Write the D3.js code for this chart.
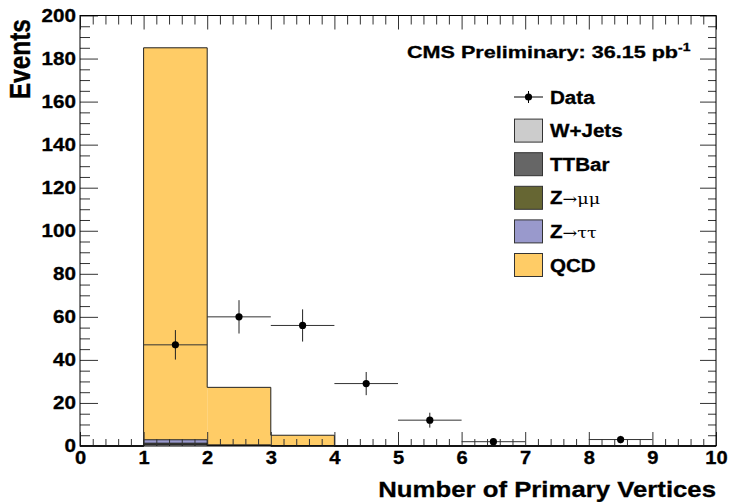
<!DOCTYPE html>
<html>
<head>
<meta charset="utf-8">
<script src="https://cdn.jsdelivr.net/npm/d3@7"></script>
<style>
  body { margin: 0; background: #fff; }
  svg { display: block; }
  text { font-family: "Liberation Sans", Arial, Helvetica, sans-serif; font-weight: bold; fill: #000; stroke: #000; stroke-width: 0.3px; }
</style>
</head>
<body>
<div id="chart"></div>
<script>
// bin low edges: 0..9, width 1
const binLow = [0, 1, 2, 3, 4, 5, 6, 7, 8, 9];
const dataCounts = [0, 47, 60, 56, 29, 12, 2, 0, 3, 0];
const wjets   = [0, 0.6, 0.3, 0.1, 0, 0, 0, 0, 0, 0];
const ttbar   = [0, 0.3, 0.05, 0, 0, 0, 0, 0, 0, 0];
const zmumu   = [0, 0.4, 0, 0, 0, 0, 0, 0, 0, 0];
const ztautau = [0, 1.6, 0, 0, 0, 0, 0, 0, 0, 0];
const qcd     = [0, 182.1, 26.9, 4.9, 0, 0, 0, 0, 0, 0];

const seriesNames = ["W+Jets", "TTBar", "Z→μμ", "Z→ττ", "QCD"];
const seriesColors = ["#cccccc", "#666666", "#666633", "#9999cc", "#ffcc66"];
const xTicks = [0, 1, 2, 3, 4, 5, 6, 7, 8, 9, 10];
const yTicks = [0, 20, 40, 60, 80, 100, 120, 140, 160, 180, 200];
const lumiLabel = "CMS Preliminary: 36.15 pb";

const w = 730, h = 502;
const pLeft = 80, pRight = 716, pTop = 15.5, pBottom = 446;

const svg = d3.select("#chart").append("svg")
    .attr("width", w)
    .attr("height", h);

const x = d3.scaleLinear().domain([0, 10]).range([pLeft, pRight]);
const y = d3.scaleLinear().domain([0, 200]).range([pBottom, pTop]);

// stacked backgrounds
const rows = binLow.map(function (b, i) {
    return {lo: b, "W+Jets": wjets[i], "TTBar": ttbar[i], "Z→μμ": zmumu[i], "Z→ττ": ztautau[i], "QCD": qcd[i]};
});
const stacked = d3.stack().keys(seriesNames)(rows);

const stackG = svg.append("g");
stacked.forEach(function (layer, k) {
    stackG.append("g").selectAll("rect")
        .data(layer.filter(d => d[1] > d[0]))
        .enter().append("rect")
        .attr("x", d => x(d.data.lo))
        .attr("width", d => x(d.data.lo + 1) - x(d.data.lo))
        .attr("y", d => y(d[1]))
        .attr("height", d => y(d[0]) - y(d[1]))
        .attr("fill", seriesColors[k]);
});
// outline of each cumulative histogram
stacked.forEach(function (layer) {
    let pts = [[binLow[0], 0]];
    layer.forEach(function (d) {
        pts.push([d.data.lo, d[1]]);
        pts.push([d.data.lo + 1, d[1]]);
    });
    pts.push([binLow[binLow.length - 1] + 1, 0]);
    stackG.append("path")
        .attr("d", d3.line().x(p => x(p[0])).y(p => y(p[1]))(pts))
        .attr("fill", "none")
        .attr("stroke", "#222")
        .attr("stroke-width", 1);
});

// data points
const dataG = svg.append("g");
const pts = binLow.map((b, i) => ({lo: b, n: dataCounts[i]})).filter(d => d.n > 0);
dataG.selectAll("line.h").data(pts).enter().append("line")
    .attr("x1", d => x(d.lo)).attr("x2", d => x(d.lo + 1))
    .attr("y1", d => y(d.n)).attr("y2", d => y(d.n))
    .attr("stroke", "#333").attr("stroke-width", 1);
dataG.selectAll("line.v").data(pts).enter().append("line")
    .attr("x1", d => x(d.lo + 0.5)).attr("x2", d => x(d.lo + 0.5))
    .attr("y1", d => y(d.n + Math.sqrt(d.n))).attr("y2", d => y(d.n - Math.sqrt(d.n)))
    .attr("stroke", "#222").attr("stroke-width", 1);
dataG.selectAll("circle").data(pts).enter().append("circle")
    .attr("cx", d => x(d.lo + 0.5)).attr("cy", d => y(d.n))
    .attr("r", 3.6).attr("fill", "#000");

// axes
function styleAxis(g) {
    g.select(".domain").remove();
    g.selectAll("line").attr("stroke", "#333");
}
const xMinor = d3.range(0, 10.001, 0.2).filter(v => Math.abs(v - Math.round(v)) > 1e-6);
const yMinor = d3.range(0, 200.001, 5).filter(v => v % 20 !== 0);

svg.append("g").attr("transform", `translate(0,${pBottom})`)
    .call(d3.axisBottom(x).tickValues(xMinor).tickSize(-7).tickFormat("")).call(styleAxis);
const xAx = svg.append("g").attr("transform", `translate(0,${pBottom})`)
    .call(d3.axisBottom(x).tickValues(xTicks).tickSize(-14).tickPadding(6).tickFormat(d3.format("d")))
    .call(styleAxis);
xAx.selectAll("text")
    .style("font-size", "17.5px").style("font-family", null)
    .attr("transform", "scale(1.15,1)");

svg.append("g").attr("transform", `translate(0,${pTop})`)
    .call(d3.axisTop(x).tickValues(xMinor).tickSize(-9).tickFormat("")).call(styleAxis);
svg.append("g").attr("transform", `translate(0,${pTop})`)
    .call(d3.axisTop(x).tickValues(xTicks).tickSize(-14).tickFormat("")).call(styleAxis);

svg.append("g").attr("transform", `translate(${pLeft},0)`)
    .call(d3.axisLeft(y).tickValues(yMinor).tickSize(-10).tickFormat("")).call(styleAxis);
const yAx = svg.append("g").attr("transform", `translate(${pLeft},0)`)
    .call(d3.axisLeft(y).tickValues(yTicks).tickSize(-18).tickPadding(4).tickFormat(d3.format("d")))
    .call(styleAxis);
yAx.selectAll("text")
    .style("font-size", "17.5px").style("font-family", null)
    .attr("x", -4 / 1.18)
    .attr("transform", "scale(1.18,1)");

svg.append("g").attr("transform", `translate(${pRight},0)`)
    .call(d3.axisRight(y).tickValues(yMinor).tickSize(-8).tickFormat("")).call(styleAxis);
svg.append("g").attr("transform", `translate(${pRight},0)`)
    .call(d3.axisRight(y).tickValues(yTicks).tickSize(-16).tickFormat("")).call(styleAxis);

// frame
svg.append("rect")
    .attr("x", pLeft).attr("y", pTop)
    .attr("width", pRight - pLeft).attr("height", pBottom - pTop)
    .attr("fill", "none").attr("stroke", "#000").attr("stroke-width", 1);

// axis titles
svg.append("text")
    .attr("transform", `translate(${pRight},497) scale(1.12,1)`)
    .attr("text-anchor", "end")
    .style("font-size", "23px")
    .text("Number of Primary Vertices");
svg.append("text")
    .attr("transform", "translate(30,19) rotate(-90) scale(1,1.22)")
    .attr("text-anchor", "end")
    .style("font-size", "24.5px")
    .text("Events");

// lumi label
const lumi = svg.append("text")
    .attr("transform", "translate(407,58) scale(1.27,1)")
    .style("font-size", "17px");
lumi.append("tspan").text(lumiLabel);
lumi.append("tspan").attr("dy", -7).style("font-size", "11px").text("-1");

// legend
const legend = svg.append("g").attr("transform", "translate(514,97)");
const rowH = 33.6;
const dataEntry = legend.append("g");
dataEntry.append("line").attr("x1", 0).attr("x2", 29).attr("y1", 0).attr("y2", 0)
    .attr("stroke", "#000");
dataEntry.append("line").attr("x1", 14.5).attr("x2", 14.5).attr("y1", -6).attr("y2", 6)
    .attr("stroke", "#000");
dataEntry.append("circle").attr("cx", 14.5).attr("cy", 0).attr("r", 3.6).attr("fill", "#000");
dataEntry.append("text")
    .attr("transform", "translate(36,6.5) scale(1.17,1)")
    .style("font-size", "17.6px").text("Data");

seriesNames.forEach(function (name, i) {
    const g = legend.append("g").attr("transform", `translate(0,${(i + 1) * rowH})`);
    g.append("rect")
        .attr("x", 0.5).attr("y", -11.5)
        .attr("width", 28).attr("height", 23)
        .attr("fill", seriesColors[i])
        .attr("stroke", "#333").attr("stroke-width", 1);
    const t = g.append("text")
        .attr("transform", "translate(36,6.5) scale(1.17,1)")
        .style("font-size", "17.6px");
    if (name.startsWith("Z")) {
        t.append("tspan").text("Z");
        t.append("tspan")
            .style("font-weight", "normal")
            .style("stroke-width", "0px")
            .style("font-family", "'DejaVu Serif', 'Liberation Serif', serif")
            .style("font-size", "15px")
            .text(name.slice(1));
    } else {
        t.text(name);
    }
});
</script>
</body>
</html>
